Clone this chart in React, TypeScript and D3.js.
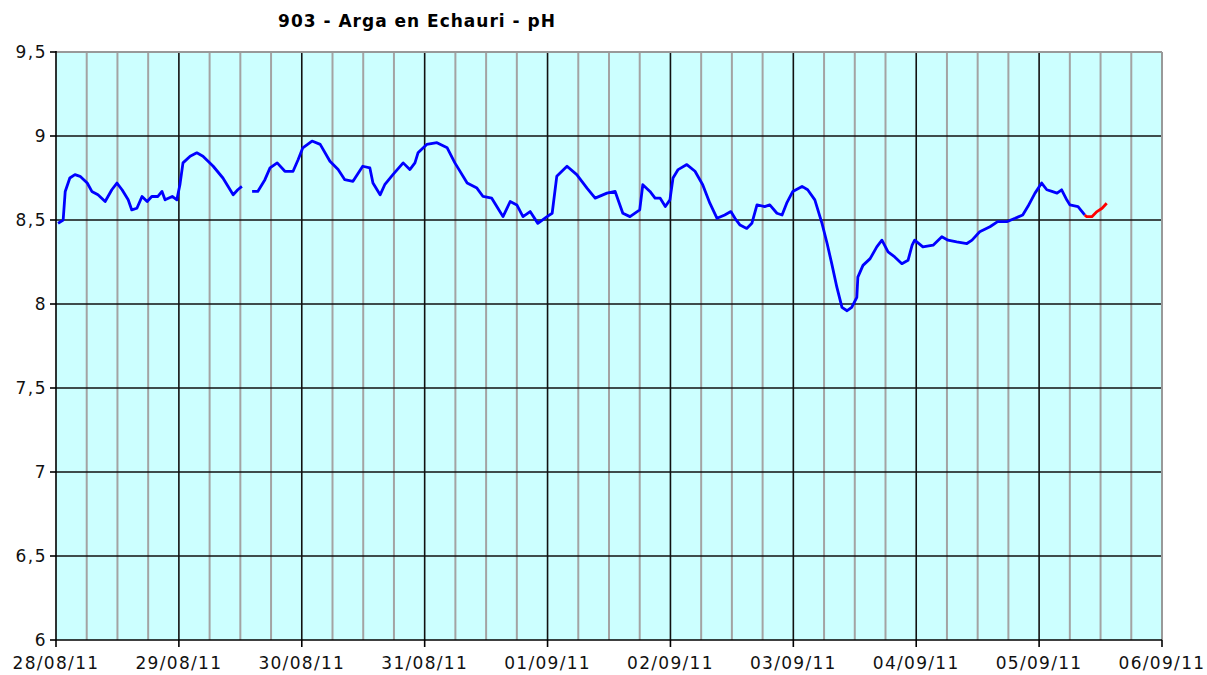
import React, { useEffect, useRef } from 'react'
import * as d3 from 'd3'

// hours since 28/08/11 00:00, pH (null = gap in record)
const blueHours = [
  0.4, 1.4, 1.8, 2.7, 3.7, 4.7, 6.1, 7.0, 8.2, 9.6, 10.9, 11.9, 12.9, 14.1, 14.8, 15.8, 16.8,
  17.8, 18.7, 19.9, 20.7, 21.3, 22.7, 23.6, 24.2, 24.8, 26.2, 27.5, 28.7, 30.7, 32.6, 34.6,
  35.5, 36.3, 37.3, 38.3, 39.4, 40.8, 41.8, 43.2, 44.7, 46.3, 47.3, 48.2, 50.0, 51.6, 53.5,
  55.1, 56.4, 58.0, 59.9, 61.3, 61.9, 63.3, 64.2, 65.8, 67.8, 69.1, 70.1, 70.7, 72.4, 74.4,
  76.4, 77.9, 80.3, 82.2, 83.4, 85.1, 86.3, 87.3, 88.7, 90.0, 91.2, 92.6, 94.1, 95.9, 96.9,
  97.8, 99.8, 101.7, 103.7, 105.3, 107.6, 109.2, 110.7, 112.1, 114.0, 114.6, 116.0, 117.0,
  118.0, 119.0, 119.9, 120.5, 121.5, 123.2, 124.8, 126.3, 127.7, 129.1, 130.6, 131.8, 132.6,
  133.6, 134.9, 135.9, 136.9, 138.4, 139.4, 140.8, 141.8, 142.7, 143.9, 145.7, 146.8, 148.2,
  149.6, 150.6, 151.5, 152.5, 153.5, 154.5, 155.4, 156.4, 156.6, 157.6, 159.0, 160.3, 161.3,
  162.5, 163.8, 165.2, 166.4, 167.2, 167.7, 169.3, 171.3, 173.0, 174.2, 175.9, 177.9, 178.9,
  180.4, 182.4, 183.9, 185.7, 187.3, 188.8, 189.8, 191.2, 192.5, 193.5, 194.5, 195.5, 196.4,
  197.4, 198.0, 199.6, 200.9,
]
const bluePh: (number | null)[] = [
  8.48, 8.5, 8.67, 8.75, 8.77, 8.76, 8.72, 8.67, 8.65, 8.61, 8.68, 8.72, 8.68, 8.62, 8.56, 8.57,
  8.64, 8.61, 8.64, 8.64, 8.67, 8.62, 8.64, 8.62, 8.71, 8.84, 8.88, 8.9, 8.88, 8.82, 8.75, 8.65,
  8.68, 8.7, null, 8.67, 8.67, 8.74, 8.81, 8.84, 8.79, 8.79, 8.86, 8.93, 8.97, 8.95, 8.85, 8.8,
  8.74, 8.73, 8.82, 8.81, 8.72, 8.65, 8.71, 8.77, 8.84, 8.8, 8.84, 8.9, 8.95, 8.96, 8.93, 8.84,
  8.72, 8.69, 8.64, 8.63, 8.57, 8.52, 8.61, 8.59, 8.52, 8.55, 8.48, 8.52, 8.54, 8.76, 8.82,
  8.77, 8.69, 8.63, 8.66, 8.67, 8.54, 8.52, 8.56, 8.71, 8.67, 8.63, 8.63, 8.58, 8.62, 8.75,
  8.8, 8.83, 8.79, 8.71, 8.6, 8.51, 8.53, 8.55, 8.51, 8.47, 8.45, 8.48, 8.59, 8.58, 8.59, 8.54,
  8.53, 8.6, 8.67, 8.7, 8.68, 8.62, 8.48, 8.36, 8.24, 8.1, 7.98, 7.96, 7.98, 8.04, 8.16, 8.23,
  8.27, 8.34, 8.38, 8.31, 8.28, 8.24, 8.26, 8.35, 8.38, 8.34, 8.35, 8.4, 8.38, 8.37, 8.36,
  8.38, 8.43, 8.46, 8.49, 8.49, 8.51, 8.53, 8.58, 8.66, 8.72, 8.68, 8.67, 8.66, 8.68, 8.62,
  8.59, 8.58, 8.53,
]
const redHours = [200.9, 201.3, 202.3, 203.3, 204.3, 205.2]
const redPh = [8.53, 8.52, 8.52, 8.55, 8.57, 8.6]

const yTicks = [6, 6.5, 7, 7.5, 8, 8.5, 9, 9.5]
const dayLabels = [
  '28/08/11', '29/08/11', '30/08/11', '31/08/11', '01/09/11',
  '02/09/11', '03/09/11', '04/09/11', '05/09/11', '06/09/11',
]
const title = '903 - Arga en Echauri - pH'

const W = 1207
const H = 675
const margin = { top: 52, right: 45, bottom: 35, left: 56 }

const App: React.FC = () => {
  const svgRef = useRef<SVGSVGElement>(null)

  useEffect(() => {
    const svg = d3.select(svgRef.current)
    svg.selectAll('*').remove()

    const x0 = margin.left
    const x1 = W - margin.right
    const y0 = H - margin.bottom
    const y1 = margin.top
    const totalHours = (dayLabels.length - 1) * 24

    const x = d3.scaleLinear().domain([0, totalHours]).range([x0, x1])
    const y = d3.scaleLinear().domain([6, 9.5]).range([y0, y1])

    svg.append('rect').attr('x', x0).attr('y', y1).attr('width', x1 - x0).attr('height', y0 - y1).attr('fill', '#CCFFFF')

    // minor vertical grid every 6h
    const minor = d3.range(6, totalHours, 6).filter((h) => h % 24 !== 0)
    svg.append('g').selectAll('line').data(minor).enter().append('line')
      .attr('x1', (d) => x(d)).attr('x2', (d) => x(d))
      .attr('y1', y1).attr('y2', y0)
      .attr('stroke', '#a3a3a3').attr('stroke-width', 2)

    // major vertical grid each day
    const days = d3.range(1, dayLabels.length - 1).map((i) => i * 24)
    svg.append('g').selectAll('line').data(days).enter().append('line')
      .attr('x1', (d) => x(d)).attr('x2', (d) => x(d))
      .attr('y1', y1).attr('y2', y0)
      .attr('stroke', '#111').attr('stroke-width', 1.6)

    // horizontal grid
    svg.append('g').selectAll('line').data(yTicks.slice(1, -1)).enter().append('line')
      .attr('x1', x0).attr('x2', x1)
      .attr('y1', (d) => y(d)).attr('y2', (d) => y(d))
      .attr('stroke', '#111').attr('stroke-width', 1.6)

    // plot border (top / right grey)
    svg.append('line').attr('x1', x0).attr('x2', x1).attr('y1', y1).attr('y2', y1).attr('stroke', '#999').attr('stroke-width', 2)
    svg.append('line').attr('x1', x1).attr('x2', x1).attr('y1', y1).attr('y2', y0).attr('stroke', '#999').attr('stroke-width', 2)

    // axes
    svg.append('line').attr('x1', x0).attr('x2', x0).attr('y1', y1 - 1).attr('y2', y0).attr('stroke', '#000').attr('stroke-width', 1.6)
    svg.append('line').attr('x1', x0).attr('x2', x1).attr('y1', y0).attr('y2', y0).attr('stroke', '#000').attr('stroke-width', 1.6)

    svg.append('g').selectAll('line').data(yTicks).enter().append('line')
      .attr('x1', x0 - 6).attr('x2', x0)
      .attr('y1', (d) => y(d)).attr('y2', (d) => y(d))
      .attr('stroke', '#000').attr('stroke-width', 1.6)
    svg.append('g').selectAll('line').data(dayLabels).enter().append('line')
      .attr('x1', (_, i) => x(i * 24)).attr('x2', (_, i) => x(i * 24))
      .attr('y1', y0).attr('y2', y0 + 7)
      .attr('stroke', '#000').attr('stroke-width', 1.6)

    const fmt = (v: number) => String(v).replace('.', ',')
    svg.append('g').selectAll('text').data(yTicks).enter().append('text')
      .attr('x', x0 - 9).attr('y', (d) => y(d) + 6)
      .attr('text-anchor', 'end')
      .attr('font-family', 'DejaVu Sans, Verdana, sans-serif')
      .attr('font-size', 17)
      .attr('letter-spacing', 1.5)
      .attr('fill', '#111')
      .text(fmt)

    svg.append('g').selectAll('text').data(dayLabels).enter().append('text')
      .attr('x', (_, i) => x(i * 24)).attr('y', y0 + 29)
      .attr('text-anchor', 'middle')
      .attr('font-family', 'DejaVu Sans, Verdana, sans-serif')
      .attr('font-size', 17)
      .attr('letter-spacing', 1.3)
      .attr('fill', '#111')
      .text((d) => d)

    svg.append('text')
      .attr('x', 417).attr('y', 27)
      .attr('text-anchor', 'middle')
      .attr('font-family', 'DejaVu Sans, Verdana, sans-serif')
      .attr('font-size', 17)
      .attr('font-weight', 'bold')
      .attr('letter-spacing', 1)
      .attr('fill', '#000')
      .text(title)

    const blue = blueHours.map((h, i) => [h, bluePh[i]] as [number, number | null])
    const red = redHours.map((h, i) => [h, redPh[i]] as [number, number])

    const line = d3.line<[number, number | null]>()
      .defined((d) => d[1] !== null)
      .x((d) => x(d[0]))
      .y((d) => y(d[1] as number))

    svg.append('path').datum(blue).attr('d', line)
      .attr('fill', 'none').attr('stroke', '#0000ff').attr('stroke-width', 2.8)
      .attr('stroke-linejoin', 'round')
    svg.append('path').datum(red).attr('d', line as any)
      .attr('fill', 'none').attr('stroke', '#ff0000').attr('stroke-width', 2.8)
      .attr('stroke-linejoin', 'round')
  }, [])

  return (
    <div style={{ position: 'absolute', left: 0, top: 0, width: W, height: H, background: '#fff' }}>
      <svg ref={svgRef} width={W} height={H} />
    </div>
  )
}

export default App
